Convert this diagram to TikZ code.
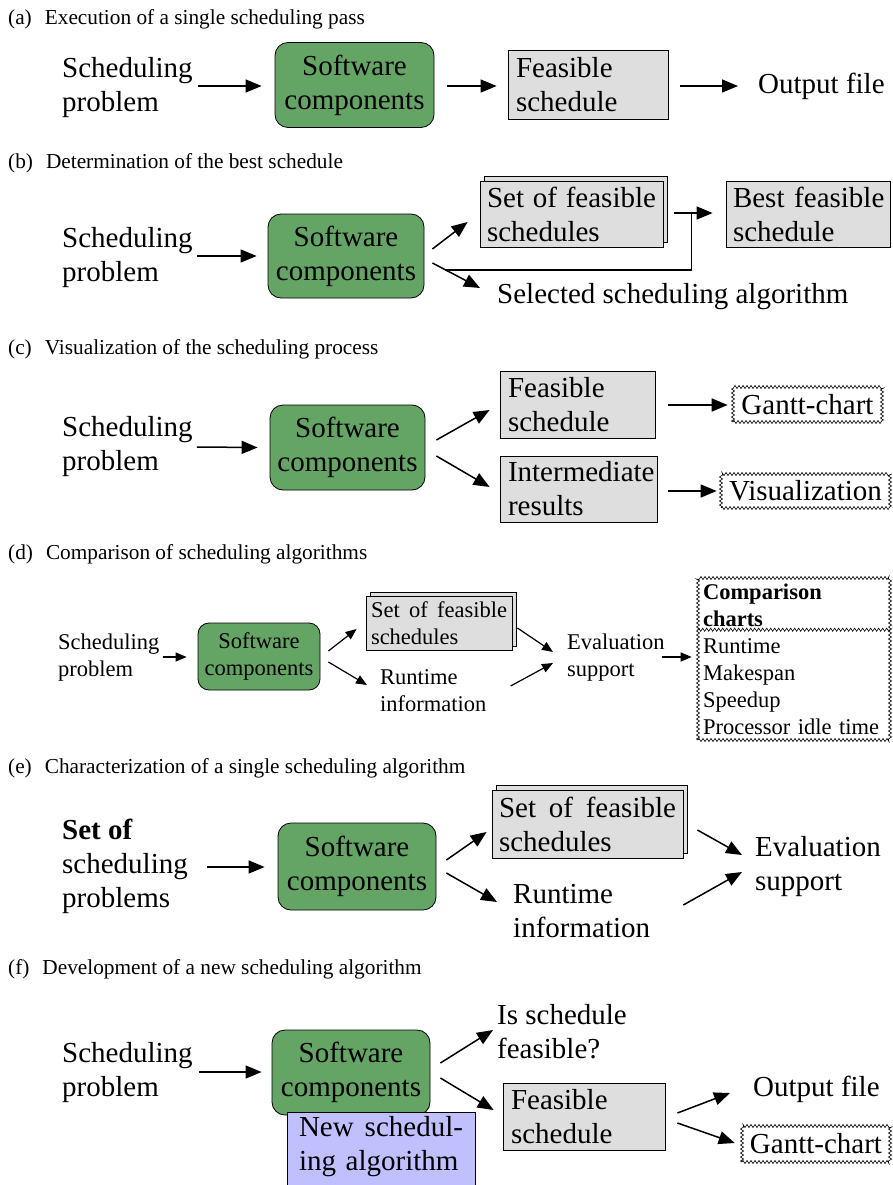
\documentclass[tikz,border=0pt]{standalone}
\usepackage{fontspec}
\setmainfont{Liberation Serif}
\usetikzlibrary{arrows.meta,decorations.pathmorphing,calc}
\definecolor{swgreen}{RGB}{100,164,100}
\definecolor{resgray}{RGB}{222,222,222}
\definecolor{algpurple}{RGB}{192,192,255}
\newcommand{\bigtxt}{\fontsize{29}{34}\selectfont}
\newcommand{\captxt}{\fontsize{21.3}{25}\selectfont}
\newcommand{\smalltxt}{\fontsize{22.5}{27}\selectfont}
\tikzset{
  lbl/.style={inner sep=0pt, anchor=west, align=left},
  captiontxt/.style={inner sep=0pt, anchor=base west, font=\captxt},
  swbox/.style={draw, line width=0.8pt, fill=swgreen, rounded corners=13pt,
    align=center, inner sep=0pt},
  resbox/.style={draw, line width=0.8pt, fill=resgray, align=left,
    inner xsep=8pt, inner ysep=0pt},
  algbox/.style={draw, line width=0.8pt, fill=algpurple, align=left,
    inner xsep=12pt, inner ysep=4pt},
  zigline/.style={line width=0.6pt, decorate,
    decoration={zigzag, amplitude=1.6pt, segment length=4pt}},
  chartbox/.style={draw, zigline, align=left, inner xsep=4pt, inner ysep=0pt},
  flow/.style={line width=1.5pt, -{Triangle[length=16pt,width=13pt]}},
  flowsm/.style={line width=1.2pt, -{Triangle[length=11pt,width=9pt]}},
  joinline/.style={line width=1.5pt}
}
\begin{document}
\begin{tikzpicture}[x=1pt,y=-1pt]
\useasboundingbox (0,0) rectangle (893,1185);

% ---------- (a) single scheduling pass ----------
\node[captiontxt] (cap_a) at (8,25) {(a)\hspace{13pt}Execution of a single scheduling pass};
\node[lbl,font=\bigtxt] (sp_a) at (62,88) {Scheduling\\problem};
\node[swbox,font=\bigtxt,minimum width=159pt,minimum height=85pt] (sw_a) at (354.5,85) {Software\\components};
\node[resbox,font=\bigtxt,text width=144pt,minimum height=69pt] (fs_a) at (588,85) {Feasible\\schedule};
\node[lbl,font=\bigtxt] (out_a) at (758,86) {Output file};
\draw[flow] ([shift={(5,-2)}]sp_a.east) -- ([shift={(-13,1)}]sw_a.west);
\draw[flow] ([shift={(13,1)}]sw_a.east) -- ([shift={(-11,1)}]fs_a.west);
\draw[flow] ([shift={(12,1)}]fs_a.east) -- ([shift={(-20,0)}]out_a.west);

% ---------- (b) best schedule ----------
\node[captiontxt] (cap_b) at (8,168) {(b)\hspace{13pt}Determination of the best schedule};
\node[lbl,font=\bigtxt] (sp_b) at (62,258) {Scheduling\\problem};
\node[swbox,font=\bigtxt,minimum width=156pt,minimum height=84pt] (sw_b) at (346,256) {Software\\components};
\node[resbox,font=\bigtxt,text width=169pt,inner xsep=7pt,minimum height=66pt] (setk_b) at (576,209.5) {\phantom{S}};
\node[resbox,font=\bigtxt,text width=169pt,inner xsep=7pt,minimum height=66pt] (set_b) at (571.5,214) {Set\hfill of\hfill feasible\\schedules};
\node[resbox,font=\bigtxt,text width=156pt,inner xsep=4pt,minimum height=66pt] (best_b) at (808,214) {\hspace{3pt}Best feasible\\\hspace{3pt}schedule};
\node[lbl,font=\bigtxt] (sel_b) at (497,297) {Selected scheduling algorithm};
\draw[flow] ([shift={(4,-2)}]sp_b.east) -- ([shift={(-11,0)}]sw_b.west);
\draw[flow] ([shift={(8,-7)}]sw_b.east) -- ([shift={(-12,8)}]set_b.west);
\coordinate (bs) at ([shift={(8,7)}]sw_b.east);
\coordinate (be) at ([shift={(-17,-9)}]sel_b.west);
\draw[flow] (bs) -- (be);
\coordinate (bj) at ([shift={(28,-1)}]set_b.east);
\draw[flow] ([shift={(11,-1)}]set_b.east) -- ([shift={(-13,-1)}]best_b.west);
\draw[joinline] ($(bs)!0.27!(be)$) -| (bj);

% ---------- (c) visualization ----------
\node[captiontxt] (cap_c) at (8,354) {(c)\hspace{13pt}Visualization of the scheduling process};
\node[lbl,font=\bigtxt] (sp_c) at (62,447) {Scheduling\\problem};
\node[swbox,font=\bigtxt,minimum width=155pt,minimum height=85pt] (sw_c) at (347.5,447.5) {Software\\components};
\node[resbox,font=\bigtxt,text width=139pt,minimum height=67pt] (fs_c) at (577.5,404.5) {Feasible\\schedule};
\node[resbox,font=\bigtxt,text width=141pt,minimum height=66pt] (ir_c) at (578.5,489) {Intermediate\\results};
\node[chartbox,font=\bigtxt,minimum width=149pt,minimum height=35pt,inner xsep=2pt] (gantt_c) at (807.5,404.5) {Gantt-chart};
\node[chartbox,font=\bigtxt,minimum width=169pt,minimum height=34pt,inner xsep=2pt] (vis_c) at (805.5,491) {Visualization};
\draw[flow] ([shift={(4,0)}]sp_c.east) -- ([shift={(-12,0)}]sw_c.west);
\draw[flow] ([shift={(11,-7.5)}]sw_c.east) -- ([shift={(-10,5.5)}]fs_c.west);
\draw[flow] ([shift={(11,8.5)}]sw_c.east) -- ([shift={(-10,-2)}]ir_c.west);
\draw[flow] ([shift={(13,0.5)}]fs_c.east) -- ([shift={(-5,0.5)}]gantt_c.west);
\draw[flow] ([shift={(11,2)}]ir_c.east) -- ([shift={(-4,0)}]vis_c.west);

% ---------- (d) comparison ----------
\node[captiontxt] (cap_d) at (8,559) {(d)\hspace{13pt}Comparison of scheduling algorithms};
\node[lbl,font=\smalltxt] (sp_d) at (58,658) {Scheduling\\problem};
\node[swbox,font=\smalltxt,rounded corners=11pt,minimum width=122pt,minimum height=67pt] (sw_d) at (259,656.5) {Software\\components};
\node[resbox,font=\smalltxt,text width=136pt,inner xsep=5pt,minimum height=54pt] (setk_d) at (443,619) {\phantom{S}};
\node[resbox,font=\smalltxt,text width=136pt,inner xsep=5pt,minimum height=54pt] (set_d) at (439,623) {Set\hfill of\hfill feasible\\schedules};
\node[lbl,font=\smalltxt] (rt_d) at (380,691) {Runtime\\information};
\node[lbl,font=\smalltxt] (ev_d) at (567,657.5) {Evaluation\\support};
\node[chartbox,font=\smalltxt,text width=182pt,inner xsep=5pt,minimum height=162pt] (cmp_d) at (794,659)
  {\textbf{Comparison}\\\textbf{charts}\\Runtime\\Makespan\\Speedup\\Processor idle time};
\draw[zigline] ([yshift=-52pt]cmp_d.north west) -- ([yshift=-52pt]cmp_d.north east);
\draw[flowsm] ([shift={(3,-1)}]sp_d.east) -- ([shift={(-11,0.5)}]sw_d.west);
\draw[flowsm] ([shift={(8,-5.5)}]sw_d.east) -- ([shift={(-9,6)}]set_d.west);
\draw[flowsm] ([shift={(8,5.5)}]sw_d.east) -- ([shift={(-13,-6)}]rt_d.west);
\draw[flowsm] ([shift={(5,5)}]set_d.east) -- ([shift={(-14,-5.5)}]ev_d.west);
\draw[flowsm] ([shift={(24,-5)}]rt_d.east) -- ([shift={(-14,5.5)}]ev_d.west);
\draw[flowsm] ([shift={(-2.5,-0.5)}]ev_d.east) -- ([shift={(-6,-2)}]cmp_d.west);

% ---------- (e) characterization ----------
\node[captiontxt] (cap_e) at (8,773) {(e)\hspace{13pt}Characterization of a single scheduling algorithm};
\node[lbl,font=\bigtxt] (sp_e) at (62,866) {\textbf{Set of}\\scheduling\\problems};
\node[swbox,font=\bigtxt,minimum width=158pt,minimum height=87pt] (sw_e) at (357,866.5) {Software\\components};
\node[resbox,font=\bigtxt,text width=177pt,inner xsep=7pt,minimum height=68pt] (setk_e) at (592,819.5) {\phantom{S}};
\node[resbox,font=\bigtxt,text width=177pt,inner xsep=7pt,minimum height=68pt] (set_e) at (587.5,824) {Set\hfill of\hfill feasible\\schedules};
\node[lbl,font=\bigtxt] (rt_e) at (513,911) {Runtime\\information};
\node[lbl,font=\bigtxt] (ev_e) at (755,866.5) {Evaluation\\support};
\draw[flow] ([shift={(19,1)}]sp_e.east) -- ([shift={(-13,0.5)}]sw_e.west);
\draw[flow] ([shift={(10,-6.5)}]sw_e.east) -- ([shift={(-5,8)}]set_e.west);
\draw[flow] ([shift={(10,6.5)}]sw_e.east) -- ([shift={(-16,-9)}]rt_e.west);
\draw[flow] ([shift={(14,6)}]set_e.east) -- ([shift={(-13,-11.5)}]ev_e.west);
\draw[flow] ([shift={(33,-6)}]rt_e.east) -- ([shift={(-13,5.5)}]ev_e.west);

% ---------- (f) new algorithm ----------
\node[captiontxt] (cap_f) at (8,974) {(f)\hspace{13pt}Development of a new scheduling algorithm};
\node[lbl,font=\bigtxt] (sp_f) at (62,1073) {Scheduling\\problem};
\node[swbox,font=\bigtxt,minimum width=158pt,minimum height=85pt] (sw_f) at (351,1072.5) {Software\\components};
\node[algbox,font=\bigtxt,text width=164pt,text depth=60pt,anchor=north] (new_f) at (381,1112) {New\hfill schedul-\\ing algorithm};
\node[lbl,font=\bigtxt] (isf_f) at (497,1032) {Is schedule\\feasible?};
\node[resbox,font=\bigtxt,text width=146pt,minimum height=67pt] (fs_f) at (584,1116.5) {Feasible\\schedule};
\node[lbl,font=\bigtxt] (out_f) at (753,1089) {Output file};
\node[chartbox,font=\bigtxt,minimum width=148pt,minimum height=36pt,inner xsep=2pt] (gantt_f) at (816,1144) {Gantt-chart};
\draw[flow] ([shift={(6,-1)}]sp_f.east) -- ([shift={(-10,-0.5)}]sw_f.west);
\draw[flow] ([shift={(10,-9.5)}]sw_f.east) -- ([shift={(-4,-2)}]isf_f.west);
\draw[flow] ([shift={(10,5.5)}]sw_f.east) -- ([shift={(-9,-6.5)}]fs_f.west);
\draw[flow] ([shift={(12,-3.5)}]fs_f.east) -- ([shift={(-23,4)}]out_f.west);
\draw[flow] ([shift={(12,6.5)}]fs_f.east) -- ([shift={(-7,-1)}]gantt_f.west);
\end{tikzpicture}
\end{document}
